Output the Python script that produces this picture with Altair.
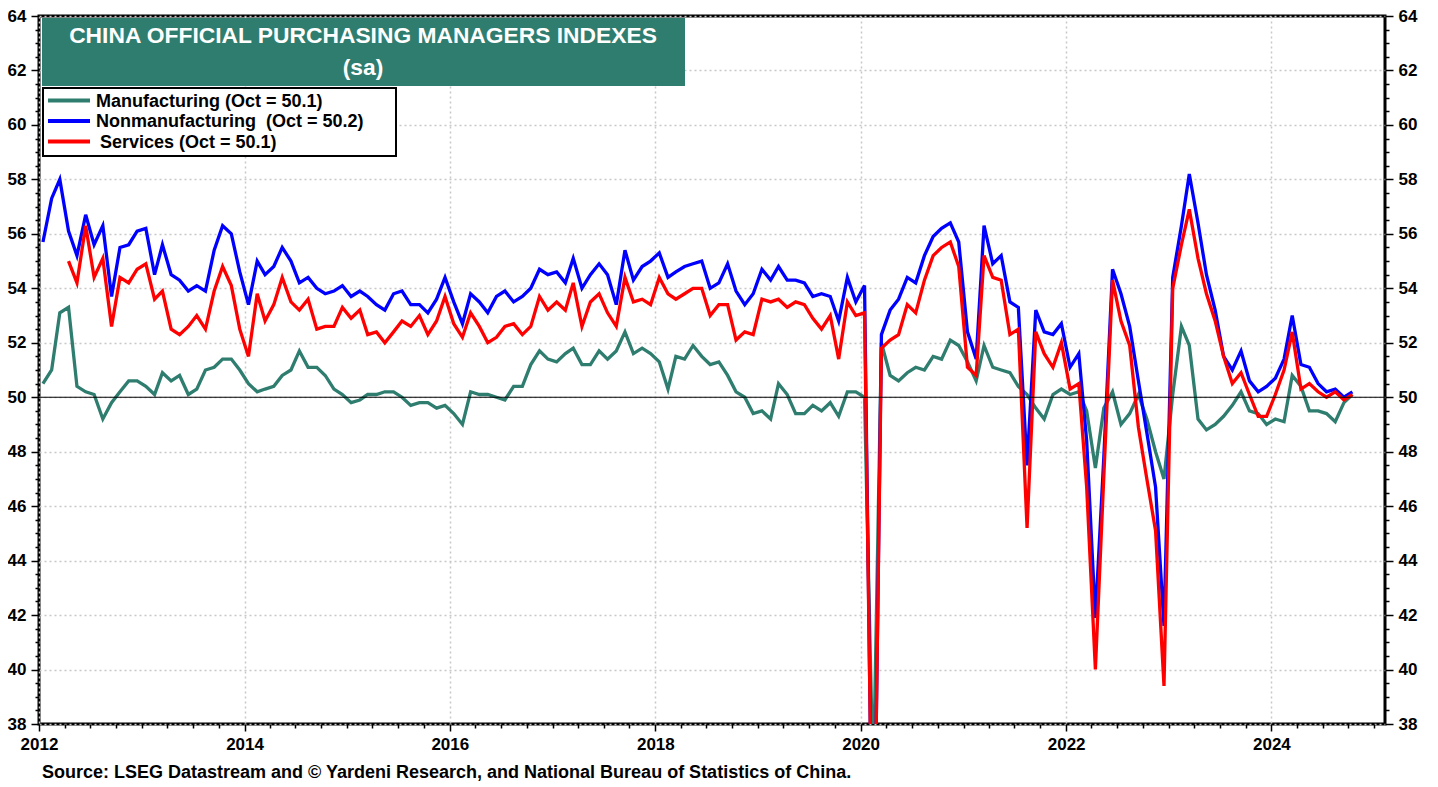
import altair as alt
import pandas as pd

# ---------------- data ----------------
series_names = ["Manufacturing", "Nonmanufacturing", "Services"]
NB = "\u00a0"
legend_labels = ["Manufacturing (Oct = 50.1)",
                 f"Nonmanufacturing {NB}(Oct = 50.2)",
                 "Services (Oct = 50.1)"]
legend_text_indent = [0, 0, 4]
series_colors = ["#2E7D6F", "#0000FF", "#FF0000"]

manufacturing = [
    50.5, 51.0, 53.1, 53.3, 50.4, 50.2, 50.1, 49.2, 49.8, 50.2, 50.6, 50.6,
    50.4, 50.1, 50.9, 50.6, 50.8, 50.1, 50.3, 51.0, 51.1, 51.4, 51.4, 51.0,
    50.5, 50.2, 50.3, 50.4, 50.8, 51.0, 51.7, 51.1, 51.1, 50.8, 50.3, 50.1,
    49.8, 49.9, 50.1, 50.1, 50.2, 50.2, 50.0, 49.7, 49.8, 49.8, 49.6, 49.7,
    49.4, 49.0, 50.2, 50.1, 50.1, 50.0, 49.9, 50.4, 50.4, 51.2, 51.7, 51.4,
    51.3, 51.6, 51.8, 51.2, 51.2, 51.7, 51.4, 51.7, 52.4, 51.6, 51.8, 51.6,
    51.3, 50.3, 51.5, 51.4, 51.9, 51.5, 51.2, 51.3, 50.8, 50.2, 50.0, 49.4,
    49.5, 49.2, 50.5, 50.1, 49.4, 49.4, 49.7, 49.5, 49.8, 49.3, 50.2, 50.2,
    50.0, 35.7, 52.0, 50.8, 50.6, 50.9, 51.1, 51.0, 51.5, 51.4, 52.1, 51.9,
    51.3, 50.6, 51.9, 51.1, 51.0, 50.9, 50.4, 50.1, 49.6, 49.2, 50.1, 50.3,
    50.1, 50.2, 49.5, 47.4, 49.6, 50.2, 49.0, 49.4, 50.1, 49.2, 48.0, 47.0,
    50.1, 52.6, 51.9, 49.2, 48.8, 49.0, 49.3, 49.7, 50.2, 49.5, 49.4, 49.0,
    49.2, 49.1, 50.8, 50.4, 49.5, 49.5, 49.4, 49.1, 49.8, 50.1,
]

nonmanufacturing = [
    55.7, 57.3, 58.0, 56.1, 55.2, 56.7, 55.6, 56.3, 53.7, 55.5, 55.6, 56.1,
    56.2, 54.5, 55.6, 54.5, 54.3, 53.9, 54.1, 53.9, 55.4, 56.3, 56.0, 54.6,
    53.4, 55.0, 54.5, 54.8, 55.5, 55.0, 54.2, 54.4, 54.0, 53.8, 53.9, 54.1,
    53.7, 53.9, 53.7, 53.4, 53.2, 53.8, 53.9, 53.4, 53.4, 53.1, 53.6, 54.4,
    53.5, 52.7, 53.8, 53.5, 53.1, 53.7, 53.9, 53.5, 53.7, 54.0, 54.7, 54.5,
    54.6, 54.2, 55.1, 54.0, 54.5, 54.9, 54.5, 53.4, 55.4, 54.3, 54.8, 55.0,
    55.3, 54.4, 54.6, 54.8, 54.9, 55.0, 54.0, 54.2, 54.9, 53.9, 53.4, 53.8,
    54.7, 54.3, 54.8, 54.3, 54.3, 54.2, 53.7, 53.8, 53.7, 52.8, 54.4, 53.5,
    54.1, 29.6, 52.3, 53.2, 53.6, 54.4, 54.2, 55.2, 55.9, 56.2, 56.4, 55.7,
    52.4, 51.4, 56.3, 54.9, 55.2, 53.5, 53.3, 47.5, 53.2, 52.4, 52.3, 52.7,
    51.1, 51.6, 48.4, 41.9, 47.8, 54.7, 53.8, 52.6, 50.6, 48.7, 46.7, 41.6,
    54.4, 56.3, 58.2, 56.4, 54.5, 53.2, 51.5, 51.0, 51.7, 50.6, 50.2, 50.4,
    50.7, 51.4, 53.0, 51.2, 51.1, 50.5, 50.2, 50.3, 50.0, 50.2,
]

services = [
    None, None, None, 55.0, 54.2, 56.3, 54.4, 55.1, 52.6, 54.4, 54.2, 54.7,
    54.9, 53.6, 53.9, 52.5, 52.3, 52.6, 53.0, 52.5, 53.9, 54.8, 54.1, 52.5,
    51.5, 53.8, 52.8, 53.4, 54.4, 53.5, 53.2, 53.6, 52.5, 52.6, 52.6, 53.3,
    52.9, 53.2, 52.3, 52.4, 52.0, 52.4, 52.8, 52.6, 53.0, 52.3, 52.8, 53.7,
    52.7, 52.2, 53.1, 52.6, 52.0, 52.2, 52.6, 52.7, 52.3, 52.6, 53.7, 53.2,
    53.5, 53.2, 54.2, 52.6, 53.5, 53.8, 53.1, 52.6, 54.4, 53.5, 53.6, 53.4,
    54.4, 53.8, 53.6, 53.8, 54.0, 54.0, 53.0, 53.4, 53.4, 52.1, 52.4, 52.3,
    53.6, 53.5, 53.6, 53.3, 53.5, 53.4, 52.9, 52.5, 53.0, 51.4, 53.5, 53.0,
    53.1, 30.1, 51.8, 52.1, 52.3, 53.4, 53.1, 54.3, 55.2, 55.5, 55.7, 54.8,
    51.1, 50.8, 55.2, 54.4, 54.3, 52.3, 52.5, 45.2, 52.4, 51.6, 51.1, 52.0,
    50.3, 50.5, 46.7, 40.0, 47.1, 54.3, 52.8, 51.9, 48.9, 47.0, 45.1, 39.4,
    54.0, 55.6, 56.9, 55.1, 53.8, 52.8, 51.5, 50.5, 50.9, 50.1, 49.3, 49.3,
    50.1, 51.0, 52.4, 50.3, 50.5, 50.2, 50.0, 50.2, 49.9, 50.1,
]

n_months = len(manufacturing)
dates = pd.date_range("2012-01-01", periods=n_months, freq="MS") + pd.Timedelta(days=14)

rows = []
for name, vals in zip(series_names, [manufacturing, nonmanufacturing, services]):
    for d, v in zip(dates, vals):
        if v is not None:
            rows.append({"date": d, "series": name, "value": v})
df = pd.DataFrame(rows)

title_lines = ["CHINA OFFICIAL PURCHASING MANAGERS INDEXES", "(sa)"]
source_text = "Source: LSEG Datastream and \u00a9 Yardeni Research, and National Bureau of Statistics of China."

FONT = "Liberation Sans"
W, H = 1346, 708

# ---------------- axes ----------------
x_tick_values = [alt.DateTime(year=y, month=m, date=1)
                 for y in range(2012, 2026) for m in (1, 4, 7, 10)
                 if (y, m) <= (2025, 1)]
x_major = "month(datum.value) === 0 && year(datum.value) % 2 === 0"
x_axis = alt.Axis(
    values=x_tick_values,
    labelExpr=f"{x_major} ? timeFormat(datum.value, '%Y') : ''",
    tickSize={"condition": {"test": x_major, "value": 7}, "value": 4},
    gridOpacity={"condition": {"test": x_major, "value": 1}, "value": 0},
    grid=True, domain=False, title=None, labelOverlap=False, labelFlush=False,
    labelPadding=5,
)

y_vals = [38 + 0.5 * i for i in range(53)]
y_major = "datum.value % 2 === 0"
y_common = dict(
    values=y_vals,
    format=".0f",
    labelExpr=f"{y_major} ? datum.label : ''",
    tickSize={"condition": {"test": y_major, "value": 8}, "value": 4},
    domain=False, title=None, labelOverlap=False, labelFlush=False,
    labelPadding=5,
)
y_axis_left = alt.Axis(
    orient="left", grid=True,
    gridOpacity={"condition": {"test": y_major, "value": 1}, "value": 0},
    **y_common)
y_axis_right = alt.Axis(orient="right", grid=False, **y_common)

x_scale = alt.Scale(domain=[alt.DateTime(year=2012, month=1, date=1),
                            alt.DateTime(year=2025, month=2, date=8)])
y_scale = alt.Scale(domain=[38, 64], nice=False, zero=False)

lines = alt.Chart(df).mark_line(strokeWidth=3.3, clip=True).encode(
    x=alt.X("date:T", scale=x_scale, axis=x_axis),
    y=alt.Y("value:Q", scale=y_scale, axis=y_axis_left),
    color=alt.Color("series:N",
                    scale=alt.Scale(domain=series_names, range=series_colors),
                    legend=None),
)

fifty = alt.Chart(alt.Data(values=[{"v": 50}])).mark_rule(
    color="black", strokeWidth=1.2).encode(
    y=alt.Y("v:Q", scale=y_scale, axis=y_axis_right),
)

one = alt.Data(values=[{"k": 1}])
title_box = alt.Chart(one).mark_rect(color="#2E7D6F").encode(
    x=alt.value(3), x2=alt.value(646), y=alt.value(2), y2=alt.value(70))
title_text1 = alt.Chart(one).mark_text(
    text=title_lines[0], align="center", baseline="middle", font=FONT,
    fontSize=22.8, fontWeight="bold", color="white").encode(
    x=alt.value(324), y=alt.value(20))
title_text2 = alt.Chart(one).mark_text(
    text=title_lines[1], align="center", baseline="middle", font=FONT,
    fontSize=22.8, fontWeight="bold", color="white").encode(
    x=alt.value(324), y=alt.value(52))

legend_box = alt.Chart(one).mark_rect(
    fill="white", stroke="black", strokeWidth=2).encode(
    x=alt.value(4), x2=alt.value(357), y=alt.value(72), y2=alt.value(140))

legend_layers = []
for i, (lab, col, ind) in enumerate(zip(legend_labels, series_colors, legend_text_indent)):
    ly = 84.5 + 20.5 * i
    legend_layers.append(
        alt.Chart(one).mark_rule(color=col, strokeWidth=4).encode(
            x=alt.value(9), x2=alt.value(51), y=alt.value(ly)))
    legend_layers.append(
        alt.Chart(one).mark_text(
            text=lab, align="left", baseline="middle", font=FONT,
            fontSize=18, fontWeight="bold", color="black").encode(
            x=alt.value(57 + ind), y=alt.value(ly + 1)))

chart = alt.layer(
    lines, fifty, title_box, title_text1, title_text2, legend_box, *legend_layers
).resolve_axis(y="independent").properties(
    width=W, height=H,
    autosize=alt.AutoSizeParams(type="none"),
    padding={"left": 31, "top": 8, "right": 40, "bottom": 63},
    title=alt.TitleParams(
        text=source_text, orient="bottom", anchor="start", frame="group",
        font=FONT, fontSize=18, fontWeight="bold", color="black",
        offset=12, dx=3),
).configure_view(
    stroke="black", strokeWidth=3
).configure_axis(
    labelFont=FONT, labelFontSize=17, labelFontWeight="bold", labelColor="black",
    tickColor="black", tickWidth=1.5,
    gridColor="#c8c8c8", gridDash=[2, 3], gridWidth=1.5,
)

chart.save("out.html", embed_options={"renderer": "svg", "actions": False})
